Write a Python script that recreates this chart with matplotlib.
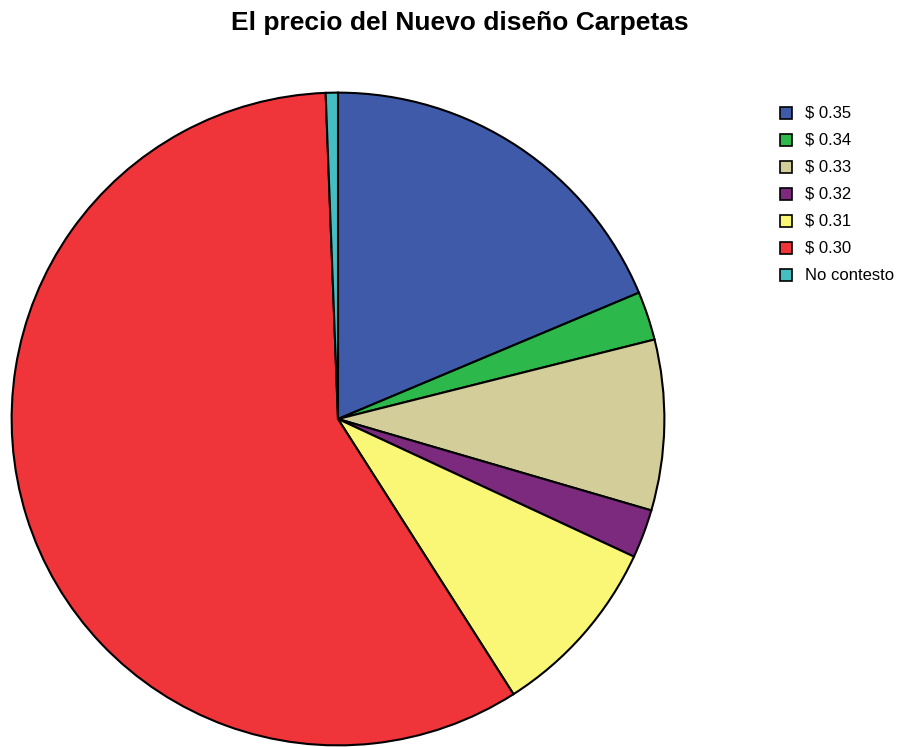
import matplotlib
matplotlib.use("Agg")
import matplotlib.pyplot as plt
from matplotlib.patches import Rectangle

plt.rcParams["font.family"] = ["Liberation Sans", "DejaVu Sans"]

labels = ["$ 0.35", "$ 0.34", "$ 0.33", "$ 0.32", "$ 0.31", "$ 0.30", "No contesto"]
counts = [31, 4, 14, 4, 15, 97, 1]
colors = ["#3F5AA8", "#2DB84B", "#D3CD9A", "#7B2A7E", "#F9F775", "#EF343A", "#45BEC2"]

W, H = 900, 747
fig = plt.figure(figsize=(W / 100, H / 100), dpi=100)

# pie centre (338, 419) px, radius 328 px
cx, cy, r = 338, 419, 328
ax = fig.add_axes([(cx - r) / W, (H - cy - r) / H, 2 * r / W, 2 * r / H])
ax.pie(counts, colors=colors, startangle=90, counterclock=False, radius=1,
       wedgeprops=dict(edgecolor="black", linewidth=1.5))
ax.set_xlim(-1.005, 1.005)
ax.set_ylim(-1.005, 1.005)
ax.set_aspect("equal")
ax.axis("off")

fig.text(460 / W, 1 - 23 / H, "El precio del Nuevo diseño Carpetas",
         ha="center", va="center", fontsize=19, fontweight="bold")

# legend
for i, (lab, col) in enumerate(zip(labels, colors)):
    y = 113 + i * 27
    fig.patches.append(Rectangle((780 / W, 1 - (y + 6) / H), 12 / W, 12 / H,
                                 facecolor=col, edgecolor="black", linewidth=1.2,
                                 transform=fig.transFigure, figure=fig))
    fig.text(805 / W, 1 - y / H, lab, ha="left", va="center", fontsize=12)

fig.savefig("out.png", dpi=100)
